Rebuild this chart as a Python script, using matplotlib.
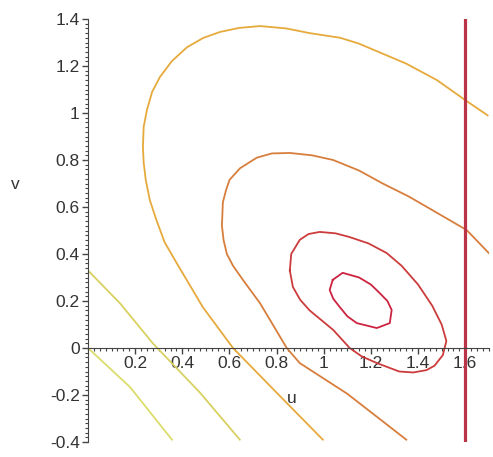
import matplotlib
matplotlib.use("Agg")
import matplotlib.pyplot as plt
from matplotlib.ticker import MultipleLocator

# contour lines (u, v)
yellow1_u = [0.0, 0.178, 0.356]
yellow1_v = [0.0, -0.166, -0.39]

yellow2_u = [0.0, 0.136, 0.275, 0.475, 0.644]
yellow2_v = [0.33, 0.19, 0.02, -0.19, -0.39]

outer_u = [0.996, 0.80, 0.615, 0.487, 0.377, 0.325, 0.29, 0.262, 0.245, 0.236, 0.233, 0.236,
           0.25, 0.272, 0.305, 0.355, 0.42, 0.49, 0.56, 0.64, 0.73, 0.84, 0.94, 1.07,
           1.15, 1.35, 1.48, 1.6, 1.695]
outer_v = [-0.39, -0.19, 0.0, 0.174, 0.36, 0.45, 0.545, 0.63, 0.715, 0.79, 0.855, 0.94,
           1.013, 1.09, 1.153, 1.22, 1.28, 1.32, 1.345, 1.362, 1.37, 1.36, 1.34, 1.32,
           1.295, 1.21, 1.14, 1.055, 0.99]

second_u = [1.35, 1.10, 0.898, 0.843, 0.73, 0.657, 0.615, 0.589, 0.575, 0.568, 0.572, 0.585,
            0.60, 0.645, 0.716, 0.78, 0.856, 0.95, 1.04, 1.15, 1.25, 1.36, 1.46, 1.606, 1.70]
second_v = [-0.39, -0.195, -0.064, 0.0, 0.19, 0.29, 0.35, 0.40, 0.46, 0.52, 0.62, 0.67,
            0.715, 0.765, 0.81, 0.828, 0.83, 0.82, 0.80, 0.755, 0.70, 0.645, 0.587, 0.502, 0.404]

ell3_u = [0.856, 0.862, 0.898, 0.935, 0.983, 1.05, 1.11, 1.19, 1.267, 1.33, 1.40, 1.46, 1.50,
          1.52, 1.505, 1.47, 1.436, 1.38, 1.32, 1.225, 1.16, 1.11, 1.04, 0.94, 0.90, 0.869,
          0.856]
ell3_v = [0.33, 0.40, 0.46, 0.485, 0.494, 0.488, 0.472, 0.445, 0.404, 0.35, 0.27, 0.18, 0.10,
          0.03, -0.03, -0.075, -0.094, -0.104, -0.10, -0.064, -0.035, 0.0, 0.077, 0.16, 0.205,
          0.26, 0.33]

ell4_u = [1.038, 1.08, 1.15, 1.20, 1.237, 1.27, 1.288, 1.28, 1.225, 1.14, 1.10, 1.068, 1.04,
          1.025, 1.038]
ell4_v = [0.29, 0.32, 0.30, 0.27, 0.234, 0.20, 0.162, 0.106, 0.085, 0.106, 0.135, 0.174, 0.21,
          0.247, 0.29]

line_u = 1.6
line_v = [-0.4, 1.4]

plt.rcParams["font.family"] = ["Liberation Sans", "DejaVu Sans"]

fig = plt.figure(figsize=(4.93, 4.57), dpi=100)
ax = fig.add_axes([0.1785, 0.0328, 0.813, 0.9256])

ax.plot(yellow1_u, yellow1_v, c="#dcdc6c", lw=1.3)
ax.plot(yellow2_u, yellow2_v, c="#d8d060", lw=1.3)
ax.plot(outer_u, outer_v, c="#e6aa3c", lw=1.3)
ax.plot(second_u, second_v, c="#d77e3c", lw=1.3)
ax.plot(ell3_u, ell3_v, c="#cc3c3c", lw=1.3)
ax.plot(ell4_u, ell4_v, c="#cc2440", lw=1.3)
ax.plot([line_u, line_u], line_v, c="#bb3347", lw=2.3)

ax.set_xlim(0, 1.7)
ax.set_ylim(-0.4, 1.4)

ax.spines["top"].set_visible(False)
ax.spines["right"].set_visible(False)
ax.spines["bottom"].set_position(("data", 0))
ax.spines["left"].set_color("#444444")
ax.spines["bottom"].set_color("#444444")

ax.set_xticks([0.2, 0.4, 0.6, 0.8, 1.0, 1.2, 1.4, 1.6])
ax.set_xticklabels(["0.2", "0.4", "0.6", "0.8", "1", "1.2", "1.4", "1.6"])
ax.set_yticks([-0.4, -0.2, 0, 0.2, 0.4, 0.6, 0.8, 1.0, 1.2, 1.4])
ax.set_yticklabels(["-0.4", "-0.2", "0", "0.2", "0.4", "0.6", "0.8", "1", "1.2", "1.4"])
ax.xaxis.set_minor_locator(MultipleLocator(0.025))
ax.yaxis.set_minor_locator(MultipleLocator(0.02))
ax.tick_params(which="major", length=4, width=1, color="#444444",
               labelsize=12.5, labelcolor="#333333", pad=2)
ax.tick_params(which="minor", length=2, width=0.8, color="#444444")

ax.text(0.864, -0.213, "u", fontsize=12.5, color="#333333", ha="center", va="center")
ax.text(-0.31, 0.694, "v", fontsize=12.5, color="#333333", ha="center", va="center",
        clip_on=False)

fig.savefig("out.png", dpi=100)
